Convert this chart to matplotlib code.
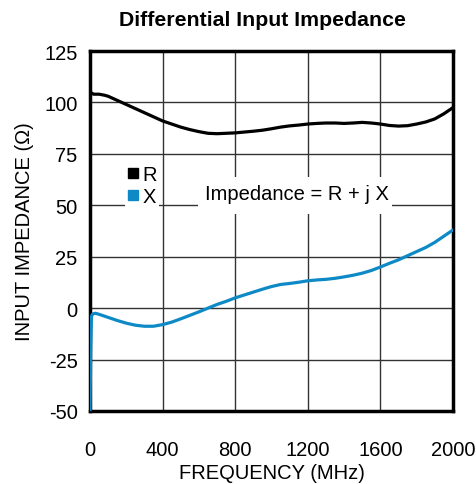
import matplotlib
matplotlib.use("Agg")
import matplotlib.pyplot as plt
from matplotlib.lines import Line2D
from matplotlib.patches import Rectangle

plt.rcParams['font.family'] = ['Liberation Sans', 'DejaVu Sans']
plt.rcParams['axes.unicode_minus'] = False

freq_r = [0, 20, 50, 80, 100, 150, 200, 250, 300, 350, 400, 450, 500, 550, 600, 650, 700, 750,
          800, 850, 900, 950, 1000, 1050, 1100, 1150, 1200, 1250, 1300, 1350, 1400, 1450, 1500,
          1550, 1600, 1650, 1700, 1750, 1800, 1850, 1900, 1950, 2000]
r_vals = [105, 104, 104, 103.5, 103, 101, 99, 97, 95, 93, 91, 89.5, 88, 86.8, 85.8, 85, 84.8, 85,
          85.2, 85.6, 86, 86.5, 87.2, 88, 88.6, 89, 89.5, 89.8, 90, 90, 89.8, 90, 90.3,
          90, 89.5, 88.8, 88.5, 88.7, 89.5, 90.5, 92, 94.5, 97.5]

freq_x = [0, 4, 8, 15, 30, 50, 100, 150, 200, 250, 300, 350, 400, 450, 500, 550, 600, 650, 700,
          750, 800, 850, 900, 950, 1000, 1050, 1100, 1150, 1200, 1250, 1300, 1350, 1400, 1450,
          1500, 1550, 1600, 1650, 1700, 1750, 1800, 1850, 1900, 1950, 2000]
x_vals = [-50, -20, -4, -2.8, -2.5, -3, -4.5, -6, -7.3, -8.3, -8.8, -8.8, -8, -6.8, -5.2, -3.5,
          -1.8, 0, 1.8, 3.3, 5, 6.4, 7.8, 9.2, 10.5, 11.5, 12, 12.6, 13.3, 13.7, 14, 14.5, 15.2,
          16, 17, 18.3, 20, 21.8, 23.5, 25.5, 27.5, 29.5, 32, 35, 38]

x_ticks = [0, 400, 800, 1200, 1600, 2000]
y_ticks = [-50, -25, 0, 25, 50, 75, 100, 125]

blue = '#0d8ac6'
fs = 14.5

fig = plt.figure(figsize=(4.76, 4.85), dpi=100)
ax = fig.add_axes([90/476, 1-412/485, 363/476, 360/485])

ax.plot(freq_r, r_vals, color='black', lw=2.3, solid_capstyle='round', zorder=3)
ax.plot(freq_x, x_vals, color=blue, lw=2.3, solid_capstyle='round', zorder=3)

ax.set_xlim(0, 2000)
ax.set_ylim(-50, 125)
ax.set_xticks(x_ticks)
ax.set_yticks(y_ticks)
ax.grid(True, color='#333333', lw=1.0, zorder=1)
ax.tick_params(length=0, labelsize=fs)
ax.tick_params(axis='x', pad=21)
ax.tick_params(axis='y', pad=9)
for s in ax.spines.values():
    s.set_linewidth(2.5)

ax.set_xlabel('FREQUENCY (MHz)', fontsize=fs, labelpad=2.5)
ax.set_ylabel('INPUT IMPEDANCE (Ω)', fontsize=fs, labelpad=7)
fig.text(262/476, 1-20/485, 'Differential Input Impedance', ha='center', va='center',
         fontsize=15.3, fontweight='bold')

handles = [Line2D([], [], marker='s', ls='', color='black', markersize=7),
           Line2D([], [], marker='s', ls='', color=blue, markersize=7)]
leg = ax.legend(handles, ['R', 'X'], loc='upper left', bbox_to_anchor=(0.096, 0.69),
                frameon=True, fancybox=False, edgecolor='none', facecolor='white', framealpha=1,
                handlelength=0.6, handletextpad=0.15, labelspacing=0.15, borderpad=0.12,
                fontsize=fs, borderaxespad=0)
leg.set_zorder(4)

ax.add_patch(Rectangle((0.2975, 0.547), 0.534, 0.103, transform=ax.transAxes,
                       facecolor='white', edgecolor='none', zorder=2))
ax.text(1140, 55.5, 'Impedance = R + j X', ha='center', va='center', fontsize=fs, zorder=4)

fig.savefig('out.png', dpi=100)
